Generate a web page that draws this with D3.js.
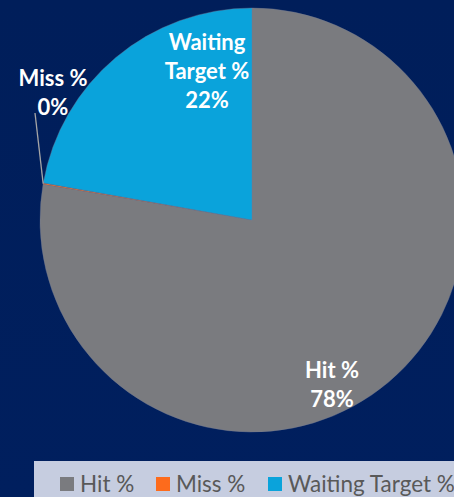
<!DOCTYPE html>
<html>
<head>
<meta charset="utf-8">
<script src="https://cdn.jsdelivr.net/npm/d3@7"></script>
<style>
  body { margin: 0; background: #001f5c; }
  svg { display: block; }
</style>
</head>
<body>
<div class="chart"></div>
<script>
const width = 454;
const height = 497;

// data
const categories = ["Hit %", "Miss %", "Waiting Target %"];
const values = [77.7, 0.1, 22.2];
const shownLabels = ["78%", "0%", "22%"];
const colors = ["#7a7b7f", "#fd6b1c", "#0aa3db"];

const cx = 252, cy = 220, radius = 212;

const svg = d3.select(".chart").append("svg").attr("width", width).attr("height", height);

// background with a faint vertical shade
const defs = svg.append("defs");
const grad = defs.append("linearGradient").attr("id", "bg").attr("x1", 0).attr("x2", 0).attr("y1", 0).attr("y2", 1);
grad.append("stop").attr("offset", "0%").attr("stop-color", "#001e5a");
grad.append("stop").attr("offset", "100%").attr("stop-color", "#001f5e");
svg.append("rect").attr("width", width).attr("height", height).attr("fill", "url(#bg)");

const pie = d3.pie().sort(null).value(d => d.v);
const arc = d3.arc().innerRadius(0).outerRadius(radius);
const rows = categories.map((c, i) => ({ name: c, v: values[i], label: shownLabels[i], color: colors[i] }));
const arcs = pie(rows);

const g = svg.append("g").attr("transform", `translate(${cx},${cy})`);
g.selectAll("path").data(arcs).enter().append("path")
  .attr("d", arc)
  .attr("fill", d => d.data.color)
  .attr("stroke", "#6f7a96")
  .attr("stroke-width", 0.4);

// label placement (offsets from pie centre), Excel-style moved labels
const labelPos = [
  { dx: 80, dy: 158 },
  { dx: -199, dy: -134 },
  { dx: -45, dy: -170 }
];
const labelLines = [
  ["Hit %", shownLabels[0]],
  ["Miss %", shownLabels[1]],
  ["Waiting", "Target %", shownLabels[2]]
];

// leader line for the tiny Miss slice
const miss = arcs[1];
const mid = (miss.startAngle + miss.endAngle) / 2;
const edge = [Math.sin(mid) * radius, -Math.cos(mid) * radius];
g.append("line")
  .attr("x1", edge[0]).attr("y1", edge[1])
  .attr("x2", labelPos[1].dx - 18).attr("y2", labelPos[1].dy + 27)
  .attr("stroke", "#a6a6a6").attr("stroke-width", 1.3);

arcs.forEach((a, i) => {
  const t = g.append("text")
    .attr("x", labelPos[i].dx).attr("y", labelPos[i].dy)
    .attr("text-anchor", "middle")
    .attr("fill", "#ffffff")
    .attr("font-family", "Lato, 'Open Sans', sans-serif")
    .attr("font-weight", "bold")
    .attr("font-size", 22);
  labelLines[i].forEach((line, j) => {
    t.append("tspan").attr("x", labelPos[i].dx).attr("dy", j === 0 ? 0 : 29).text(line);
  });
});

// legend
const legend = svg.append("g");
legend.append("rect").attr("x", 34).attr("y", 461).attr("width", 430).attr("height", 50).attr("fill", "#c6cde0");
const legendX = d3.scaleOrdinal().domain(categories).range([60, 156, 268]);
const items = legend.selectAll("g.item").data(rows).enter().append("g").attr("class", "item")
  .attr("transform", d => `translate(${legendX(d.name)},477)`);
items.append("rect").attr("width", 14).attr("height", 14).attr("fill", d => d.color);
items.append("text")
  .attr("x", 20).attr("y", 14.5)
  .attr("fill", "#595959")
  .attr("font-family", "Lato, 'Open Sans', sans-serif")
  .attr("font-size", 22.5)
  .text(d => d.name);
</script>
</body>
</html>
